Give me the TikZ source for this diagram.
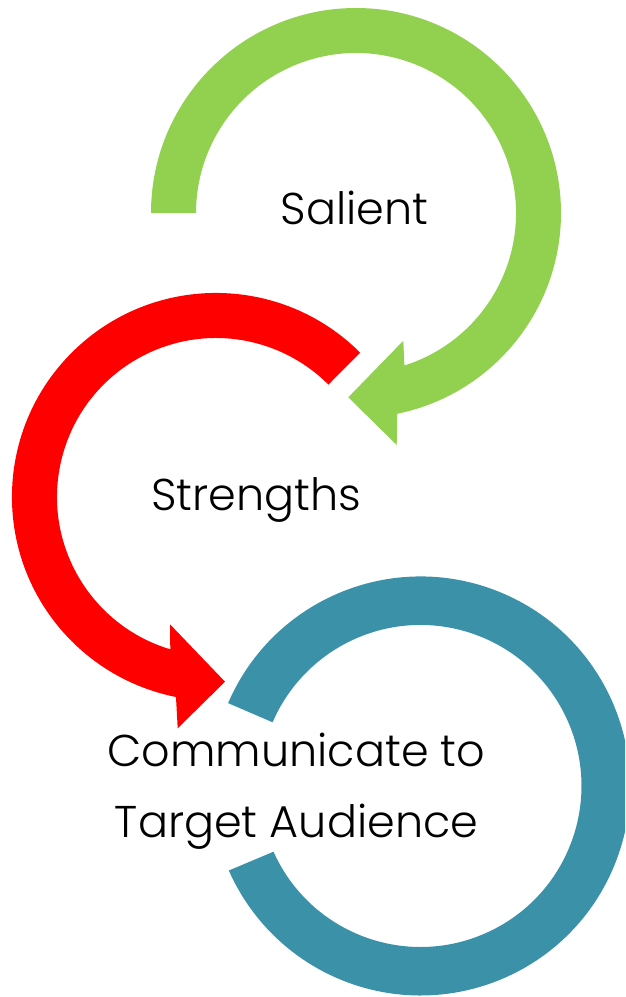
\documentclass[tikz,border=0pt]{standalone}
\usepackage{fontspec}
\setmainfont{Poppins}[UprightFont=* Light]
\definecolor{grn}{HTML}{92D050}
\definecolor{rdd}{HTML}{FF0000}
\definecolor{tel}{HTML}{3B92A8}
\begin{document}
\begin{tikzpicture}[x=1pt,y=-1pt,
  lbl/.style={font=\fontsize{44.5}{50}\selectfont, inner sep=0pt, anchor=base, text=black}]
\useasboundingbox (0,0) rectangle (625,997);
\clip (0,0) rectangle (625,997);
% green circular arrow
\fill[grn] (151,213) arc[start angle=180,end angle=438.4,radius=205]
  -- (396.7,445) -- (348.3,397.3) -- (403.3,340.7) -- (404.4,365.5)
  arc[start angle=432.4,end angle=180,radius=160] -- cycle;
% red circular arrow
\fill[rdd] (360.2,352.7) arc[start angle=-45,end angle=-258.7,radius=204]
  -- (177.7,728.3) -- (225,681.7) -- (170,624.3) -- (170.3,649.3)
  arc[start angle=-253.3,end angle=-45,radius=159] -- cycle;
% teal ring
\fill[tel] (228.1,703.1) arc[start angle=203.3,end angle=516.2,radius=209.5]
  -- (273.5,851.7) arc[start angle=515.9,end angle=203.3,radius=161] -- cycle;
% labels
\node[lbl] (salient) at (354.7,224) {Salient};
\node[lbl] (strengths) at (256,510) {Strengths};
\node[lbl] (comm1) at (296.5,766.7) {Communicate to};
\node[lbl] (comm2) at (296.5,837.3) {Target Audience};
\end{tikzpicture}
\end{document}
